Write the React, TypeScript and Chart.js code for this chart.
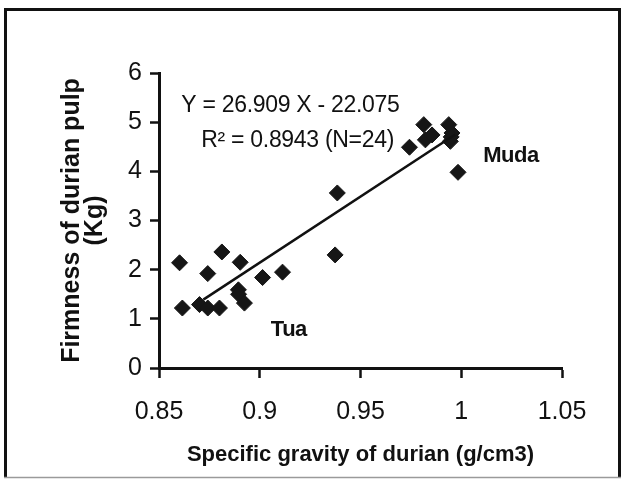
import React, { useEffect, useRef } from "react";
import { Chart, registerables } from "chart.js";

Chart.register(...registerables);

// Specific gravity (x) and firmness (y) of the 24 samples
const specificGravity = [
  0.8602, 0.8616, 0.8701, 0.8742, 0.8742, 0.880, 0.8812, 0.8894, 0.8895, 0.8903, 0.8924, 0.9014,
  0.9113, 0.9374, 0.9385, 0.9743, 0.9814, 0.9822, 0.9855, 0.9938, 0.9946, 0.9954, 0.9950, 0.9984,
];
const firmness = [
  2.14, 1.22, 1.29, 1.22, 1.92, 1.22, 2.36, 1.59, 1.50, 2.15, 1.32, 1.84,
  1.95, 2.30, 3.56, 4.49, 4.95, 4.64, 4.74, 4.95, 4.61, 4.78, 4.70, 3.98,
];
// Regression line end points (Y = 26.909 X - 22.075)
const fitX = [0.872, 0.997];
const fitY = [1.39, 4.75];

const xTicks = [0.85, 0.9, 0.95, 1, 1.05];
const yTicks = [0, 1, 2, 3, 4, 5, 6];

const equationText = "Y = 26.909 X - 22.075";
const r2Text = "R² = 0.8943 (N=24)";
const labelYoung = "Muda";
const labelOld = "Tua";
const xTitle = "Specific gravity of durian (g/cm3)";
const yTitle = ["Firmness of durian pulp", "(Kg)"];

const FONT = "'Liberation Sans', Arial, Helvetica, sans-serif";

export default function App() {
  const ref = useRef<HTMLCanvasElement | null>(null);

  useEffect(() => {
    const canvas = ref.current;
    if (!canvas) return;

    const framePlugin = {
      id: "frame",
      beforeDraw(chart: any) {
        const ctx = chart.ctx;
        ctx.save();
        ctx.fillStyle = "#ffffff";
        ctx.fillRect(0, 0, chart.width, chart.height);
        ctx.strokeStyle = "#111111";
        ctx.lineWidth = 3;
        ctx.beginPath();
        ctx.moveTo(5.5, 477);
        ctx.lineTo(5.5, 9.5);
        ctx.lineTo(619.5, 9.5);
        ctx.lineTo(619.5, 477);
        ctx.stroke();
        ctx.strokeStyle = "#9a9a9a";
        ctx.lineWidth = 1.5;
        ctx.beginPath();
        ctx.moveTo(4, 477.5);
        ctx.lineTo(621, 477.5);
        ctx.stroke();
        ctx.restore();
      },
    };

    const annotations = [
      { text: equationText, x: 0.8611, y: 5.33, font: `23px ${FONT}`, align: "left", spacing: "-0.3px" },
      { text: r2Text, x: 0.871, y: 4.62, font: `23px ${FONT}`, align: "left", spacing: "-0.3px" },
      { text: labelYoung, x: 1.0109, y: 4.32, font: `bold 22px ${FONT}`, align: "left", spacing: "-0.5px" },
      { text: labelOld, x: 0.9055, y: 0.78, font: `bold 22px ${FONT}`, align: "left", spacing: "-0.5px" },
    ];

    const annotationPlugin = {
      id: "annotations",
      afterDatasetsDraw(chart: any) {
        const ctx = chart.ctx;
        const xs = chart.scales.x;
        const ys = chart.scales.y;
        ctx.save();
        ctx.fillStyle = "#111111";
        ctx.textBaseline = "middle";
        for (const a of annotations) {
          ctx.font = a.font;
          ctx.textAlign = a.align;
          (ctx as any).letterSpacing = a.spacing;
          ctx.fillText(a.text, xs.getPixelForValue(a.x), ys.getPixelForValue(a.y));
        }
        ctx.restore();
      },
    };

    const points = specificGravity.map((x, i) => ({ x, y: firmness[i] }));
    const fit = fitX.map((x, i) => ({ x, y: fitY[i] }));

    const chart = new Chart(canvas, {
      type: "scatter",
      data: {
        datasets: [
          {
            type: "line",
            data: fit,
            borderColor: "#111111",
            borderWidth: 2.5,
            pointRadius: 0,
            showLine: true,
            fill: false,
          } as any,
          {
            data: points,
            pointStyle: "rectRot",
            pointRadius: 8,
            pointHoverRadius: 8,
            backgroundColor: "#161616",
            borderColor: "#161616",
            borderWidth: 1,
          },
        ],
      },
      options: {
        responsive: false,
        animation: false,
        devicePixelRatio: 1,
        layout: { padding: { top: 73, right: 60, left: 0, bottom: 0 } },
        plugins: {
          legend: { display: false },
          tooltip: { enabled: false },
        },
        scales: {
          x: {
            type: "linear",
            min: 0.85,
            max: 1.05,
            afterBuildTicks: (s: any) => {
              s.ticks = xTicks.map((v) => ({ value: v }));
            },
            afterFit: (s: any) => {
              s.height = 112;
              s.paddingLeft = 0;
              s.paddingRight = 0;
            },
            ticks: {
              color: "#111111",
              font: { family: FONT, size: 25 },
              padding: 19,
              maxRotation: 0,
              autoSkip: false,
              callback: (v: any) => String(Number(Number(v).toFixed(2))),
            },
            grid: {
              drawOnChartArea: false,
              drawTicks: true,
              tickLength: 10,
              tickWidth: 2.5,
              tickColor: "#111111",
            },
            border: { display: true, color: "#111111", width: 3 },
            title: {
              display: true,
              text: xTitle,
              color: "#111111",
              font: { family: FONT, size: 22, weight: "bold" },
              padding: { top: 0, bottom: 12 },
            },
          },
          y: {
            type: "linear",
            min: 0,
            max: 6,
            afterBuildTicks: (s: any) => {
              s.ticks = yTicks.map((v) => ({ value: v }));
            },
            afterFit: (s: any) => {
              s.width = 159;
              s.paddingTop = 0;
              s.paddingBottom = 0;
            },
            ticks: {
              color: "#111111",
              font: { family: FONT, size: 25 },
              padding: 8,
              autoSkip: false,
            },
            grid: {
              drawOnChartArea: false,
              drawTicks: true,
              tickLength: 9,
              tickWidth: 2.5,
              tickColor: "#111111",
            },
            border: { display: true, color: "#111111", width: 3 },
            title: {
              display: true,
              text: yTitle,
              color: "#111111",
              font: { family: FONT, size: 25, weight: "bold", lineHeight: 0.9 },
              padding: { top: 61, bottom: 0 },
            },
          },
        },
      },
      plugins: [framePlugin, annotationPlugin],
    });

    return () => chart.destroy();
  }, []);

  return (
    <div style={{ position: "absolute", left: 0, top: 0, width: 622, height: 480, background: "#fff" }}>
      <canvas ref={ref} width={622} height={480} style={{ display: "block", width: 622, height: 480 }} />
    </div>
  );
}
